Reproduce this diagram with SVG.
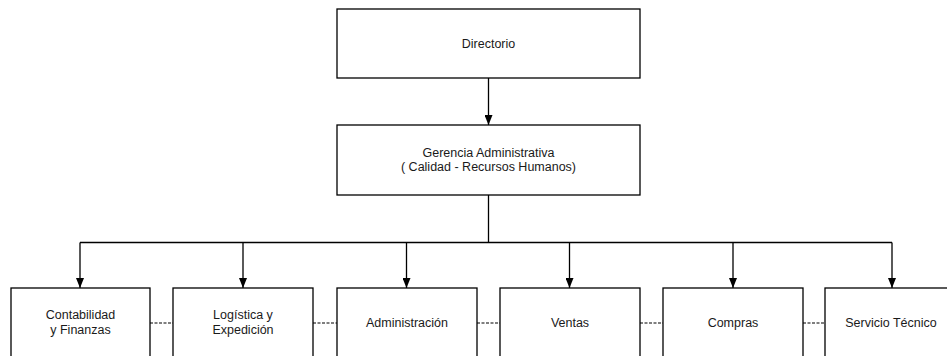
<svg xmlns="http://www.w3.org/2000/svg" width="947" height="356" viewBox="0 0 947 356">
<style>
.box{fill:#fff;stroke:#000;stroke-width:1.3}
.t{font-family:"Liberation Sans",Arial,sans-serif;font-size:12.5px;fill:#1a1a1a;text-anchor:middle}
.c{fill:none;stroke:#000;stroke-width:1.3}
.d{fill:none;stroke:#000;stroke-width:1.2;stroke-dasharray:3 1.5}
</style>
<defs>
<marker id="ah" markerWidth="8" markerHeight="10" refX="4" refY="10" orient="0" markerUnits="userSpaceOnUse">
<path d="M0,0 L8,0 L4,10 Z" fill="#000"/>
</marker>
</defs>
<g id="connectors">
<line class="c" x1="488.5" y1="78" x2="488.5" y2="125" marker-end="url(#ah)"/>
<line class="c" x1="488.5" y1="195" x2="488.5" y2="242.5"/>
<line class="c" x1="80" y1="242.5" x2="892" y2="242.5"/>
<line class="c" x1="80" y1="242.5" x2="80" y2="288" marker-end="url(#ah)"/>
<line class="c" x1="243" y1="242.5" x2="243" y2="288" marker-end="url(#ah)"/>
<line class="c" x1="406.5" y1="242.5" x2="406.5" y2="288" marker-end="url(#ah)"/>
<line class="c" x1="569.5" y1="242.5" x2="569.5" y2="288" marker-end="url(#ah)"/>
<line class="c" x1="733" y1="242.5" x2="733" y2="288" marker-end="url(#ah)"/>
<line class="c" x1="892" y1="242.5" x2="892" y2="288" marker-end="url(#ah)"/>
<line class="d" x1="150" y1="323" x2="173" y2="323"/>
<line class="d" x1="313" y1="323" x2="337" y2="323"/>
<line class="d" x1="477" y1="323" x2="500" y2="323"/>
<line class="d" x1="640" y1="323" x2="663" y2="323"/>
<line class="d" x1="803" y1="323" x2="825" y2="323"/>
</g>
<g id="directorio">
<rect class="box" x="337" y="9" width="303" height="69"/>
<text class="t" x="488.5" y="48">Directorio</text>
</g>
<g id="gerencia">
<rect class="box" x="337" y="125" width="303" height="70"/>
<text class="t" x="488.5" y="157">Gerencia Administrativa</text>
<text class="t" x="488.5" y="171">( Calidad - Recursos Humanos)</text>
</g>
<g id="contabilidad">
<rect class="box" x="11" y="288" width="139" height="80"/>
<text class="t" x="80.5" y="319">Contabilidad</text>
<text class="t" x="80.5" y="334">y Finanzas</text>
</g>
<g id="logistica">
<rect class="box" x="173" y="288" width="140" height="80"/>
<text class="t" x="243" y="319">Logística y</text>
<text class="t" x="243" y="334">Expedición</text>
</g>
<g id="administracion">
<rect class="box" x="337" y="288" width="140" height="80"/>
<text class="t" x="407" y="327">Administración</text>
</g>
<g id="ventas">
<rect class="box" x="500" y="288" width="140" height="80"/>
<text class="t" x="570" y="327">Ventas</text>
</g>
<g id="compras">
<rect class="box" x="663" y="288" width="140" height="80"/>
<text class="t" x="733" y="327">Compras</text>
</g>
<g id="servicio">
<rect class="box" x="825" y="288" width="140" height="80"/>
<text class="t" x="891" y="327">Servicio Técnico</text>
</g>
</svg>
